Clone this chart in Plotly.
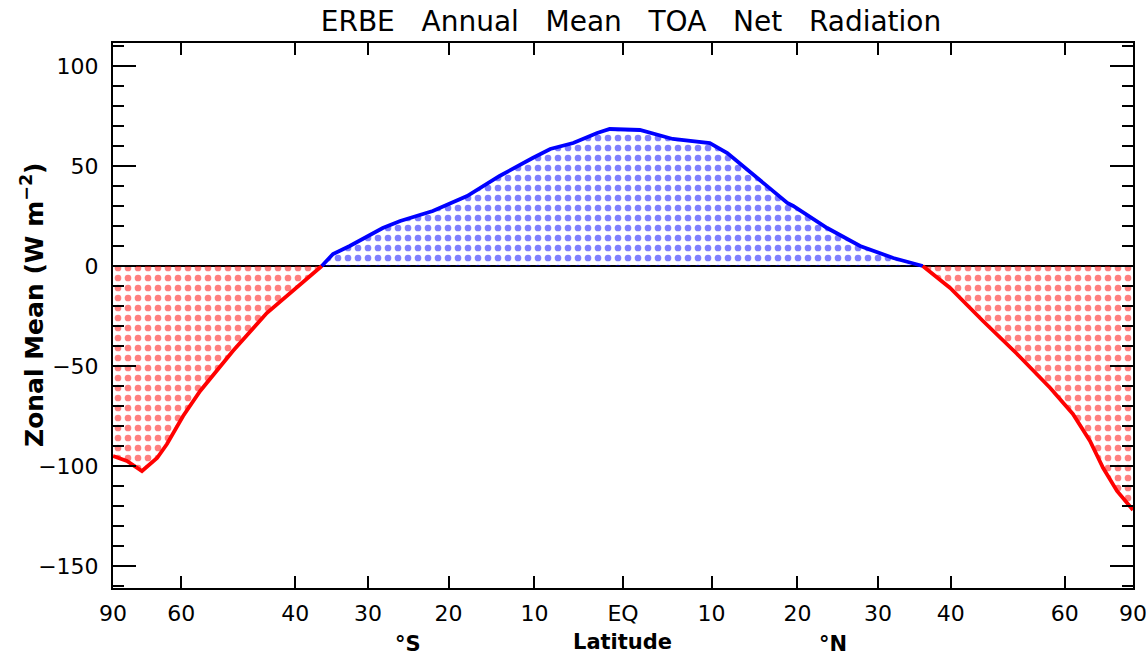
import numpy as np
import plotly.graph_objects as go

# ---- data (latitude in degrees, zonal-mean net radiation in W m^-2) ----
south_neg_lat = [-90, -76.6, -70.6, -66.0, -63.4, -59.6, -56.0, -49.9, -44.3, -39.3, -36.2]
south_neg_val = [-95, -97.5, -102.5, -96, -89, -75, -62.5, -42.5, -23.5, -9, 0]

pos_lat = [-36.2, -34.65, -32.4, -30.1, -28.1, -25.9, -21.9, -17.8, -14.0, -10.2, -8.2,
           -5.6, -2.9, -1.5, 1.9, 5.6, 9.8, 11.8, 15.2, 18.8, 19.5, 23.6, 27.7, 32.0, 36.0]
pos_val = [0, 6, 10, 15, 19, 22.5, 27.5, 35, 45, 54, 58.5,
           61.5, 66.5, 68.5, 68, 63.5, 61.5, 56.5, 44, 31.5, 30, 19, 10, 4, 0]

north_neg_lat = [36.0, 39.9, 44.9, 50.6, 56.9, 61.9, 66.3, 70.3, 75.6, 90]
north_neg_val = [0, -11, -27.5, -44, -61, -74, -87.5, -101, -112.5, -122]

tick_lats = [-90, -60, -40, -30, -20, -10, 0, 10, 20, 30, 40, 60, 90]
tick_text = ["90", "60", "40", "30", "20", "10", "EQ", "10", "20", "30", "40", "60", "90"]

gap = "\u00a0\u00a0 "
title_text = gap.join(["ERBE", "Annual", "Mean", "TOA", "Net", "Radiation"])
ytitle = "<b>Zonal Mean (W m<sup>\u22122</sup>)</b>"


def sinlat(lats):
    # axis scale: area-weighted (sine of latitude)
    return np.sin(np.radians(np.asarray(lats, dtype=float)))


fig = go.Figure()


def add_seg(lat, val, color):
    fig.add_trace(go.Scatter(
        x=sinlat(lat), y=val, mode="lines",
        line=dict(color=color, width=3.8),
        fill="tozeroy", fillcolor="rgba(0,0,0,0)",
        fillpattern=dict(shape=".", fgcolor=color, bgcolor="rgba(0,0,0,0)",
                         size=10, solidity=0.35, fillmode="overlay"),
        showlegend=False, hoverinfo="skip"))


add_seg(south_neg_lat, south_neg_val, "#ff0000")
add_seg(pos_lat, pos_val, "#0000ff")
add_seg(north_neg_lat, north_neg_val, "#ff0000")

font_family = "DejaVu Sans"
plot_l, plot_r, plot_t, plot_b = 113, 1133, 43, 588

fig.update_layout(
    width=1147, height=655,
    margin=dict(l=plot_l, r=1147 - plot_r, t=plot_t, b=655 - plot_b),
    paper_bgcolor="white", plot_bgcolor="white",
    font=dict(family=font_family, color="black", size=22),
    title=dict(text=title_text, x=631 / 1147, xanchor="center", y=1 - 21 / 655,
               yanchor="middle", yref="container",
               font=dict(family=font_family, size=28, color="black")),
)

fig.update_xaxes(
    range=[-1, 1], tickmode="array", tickvals=sinlat(tick_lats), ticktext=tick_text,
    ticks="inside", ticklen=12, tickwidth=2, tickcolor="black",
    showline=True, linecolor="black", linewidth=2, mirror="ticks",
    showgrid=False, zeroline=False, ticklabelstandoff=5, automargin=False,
    tickfont=dict(size=22),
)

fig.update_yaxes(
    range=[-161, 111.5], tickmode="array", tickvals=[-150, -100, -50, 0, 50, 100],
    ticks="inside", ticklen=23, tickwidth=2, tickcolor="black",
    minor=dict(dtick=10, ticks="inside", ticklen=11, tickwidth=2, tickcolor="black"),
    showline=True, linecolor="black", linewidth=2, mirror="ticks",
    showgrid=False, zeroline=True, zerolinecolor="black", zerolinewidth=2,
    ticklabelstandoff=8, tickfont=dict(size=22), automargin=False,
)

annots = [("<b>Latitude</b>", 622, 642, 21, 0),
          ("<b>°S</b>", 408, 644, 21, 0),
          ("<b>°N</b>", 833, 644, 21, 0),
          (ytitle, 32, 305, 25, -90)]
for txt, px, py, fs, ang in annots:
    fig.add_annotation(text=txt, x=(px - plot_l) / (plot_r - plot_l),
                       y=(plot_b - py) / (plot_b - plot_t), xref="paper", yref="paper",
                       xanchor="center", yanchor="middle", showarrow=False,
                       textangle=ang, font=dict(size=fs))

fig.write_html("out.html", config={"displayModeBar": False},
               post_script="document.body.style.margin='0';")
